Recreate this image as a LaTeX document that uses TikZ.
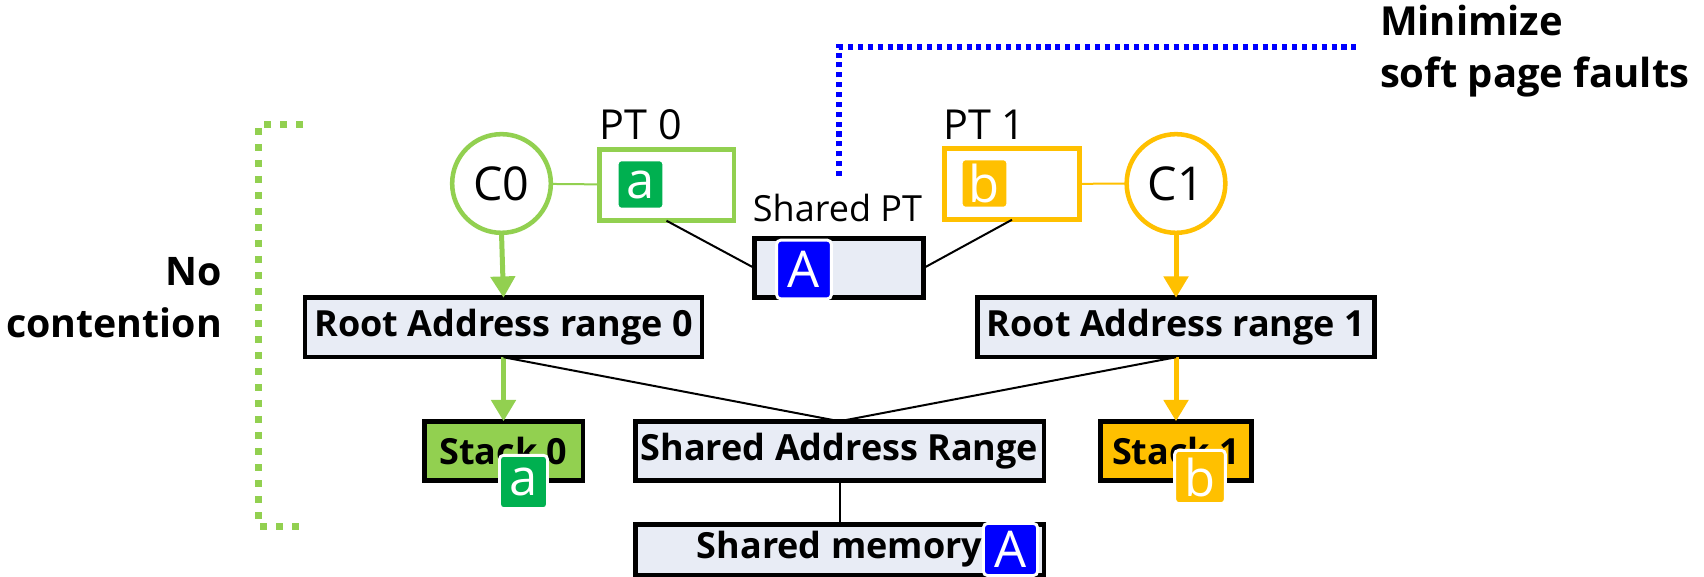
\documentclass[tikz,border=0pt]{standalone}
\usepackage{fontspec}
\setmainfont{Open Sans}
\usetikzlibrary{arrows.meta}
\definecolor{lgreen}{HTML}{92D050}
\definecolor{dgreen}{HTML}{00B050}
\definecolor{gold}{HTML}{FFC000}
\definecolor{pblue}{HTML}{0000FF}
\definecolor{boxfill}{HTML}{E8ECF5}
\begin{document}
\begin{tikzpicture}[x=0.75pt,y=-0.75pt,
  every node/.style={inner sep=0pt, outer sep=0pt},
  bbox/.style={draw=black, line width=3.4pt, fill=boxfill, font=\fontsize{27}{32}\selectfont\bfseries, minimum height=44.6pt},
  ptbox/.style={draw=#1, line width=3.4pt, fill=white, minimum width=100.9pt, minimum height=53.6pt},
  core/.style={draw=#1, line width=3.4pt, fill=white, circle, minimum size=74pt, font=\fontsize{35}{40}\selectfont},
  badge/.style={fill=#1, draw=white, line width=2.2pt, rounded corners=3pt, text=white, font=\fontsize{38}{40}\selectfont},
  thinline/.style={line width=1.5pt},
  arr/.style={draw=#1, line width=3.75pt, -{Triangle[width=18pt,length=16pt]}},
  lbl/.style={font=\fontsize{29.5}{39.5}\selectfont\bfseries},
  ptlbl/.style={font=\fontsize{31}{36}\selectfont},
]
\useasboundingbox[fill=white] (0,0) rectangle (1704,577);

% side annotations
\draw[lgreen, line width=5.25pt, dash pattern=on 5.25pt off 6.75pt] (303,125) -- (258,125) -- (258,526) -- (303,526);
\coordinate (blueEnd) at (839,176);
\coordinate (blueCorner) at (839,47);
\coordinate (blueTip) at (1358,47);
\draw[pblue, line width=4pt, dash pattern=on 3.8pt off 3.6pt] (blueEnd) -- (blueCorner) -- (blueTip);
\node[lbl, align=right, anchor=base east] (nocont) at (222,338) {No\\contention};
\node[lbl, align=left, anchor=base west, font=\fontsize{30}{39}\selectfont\bfseries] (minim) at (1380,88) {Minimize\\soft page faults};

% cores and page tables
\node[core=lgreen] (c0) at (501.5,183.5) {C0};
\node[core=gold] (c1) at (1176,183.5) {C1};
\node[ptbox=lgreen] (pt0) at (666.5,185) {};
\node[ptbox=gold] (pt1) at (1012,184) {};
\node[ptlbl, anchor=base] (pt0lbl) at (641,140) {PT 0};
\node[ptlbl, anchor=base] (pt1lbl) at (984.5,140) {PT 1};
\node[badge=dgreen, minimum width=35pt, minimum height=37pt] (pta) at (640.5,184.5) {a};
\node[badge=gold, minimum width=35pt, minimum height=37pt] (ptb) at (984.5,183.5) {b};

\node[bbox, minimum width=127pt] (spt) at (839,268) {};
\node[font=\fontsize{27}{32}\selectfont, anchor=base] (sptlbl) at (837.5,222) {Shared PT};
\node[badge=pblue, minimum width=41pt, minimum height=44pt] (sptA) at (804,269.5) {A};

% address ranges
\node[bbox, minimum width=297.5pt] (root0) at (503.5,327.5) {Root Address range 0};
\node[bbox, minimum width=297.5pt] (root1) at (1176,327.5) {Root Address range 1};
\node[bbox, fill=lgreen, minimum width=118.9pt] (stack0) at (503.5,451) {Stack 0};
\node[bbox, fill=gold, minimum width=113.6pt] (stack1) at (1176,451) {Stack 1};
\node[bbox, minimum width=306.4pt] (sar) at (839.5,451) {Shared Address Range};
\node[bbox, minimum width=306.4pt, minimum height=37.9pt] (sm) at (839.5,549.5) {Shared memory};
\node[badge=dgreen, minimum width=36pt, minimum height=40pt] (sta) at (523.5,482) {a};
\node[badge=gold, minimum width=38pt, minimum height=40pt] (stb) at (1200,477) {b};
\node[badge=pblue, minimum width=40.5pt, minimum height=39pt] (smA) at (1010.5,549.5) {A};

% connectors
\draw[lgreen, thinline] (c0) -- (pt0);
\draw[gold, thinline] (pt1) -- (c1);
\draw[thinline] (pt0.south) -- (spt.west);
\draw[thinline] (spt.east) -- (pt1.south);
\draw[arr=lgreen] (c0.south) -- (root0.north);
\draw[arr=gold] (c1.south) -- (root1.north);
\draw[arr=lgreen] (root0.south) -- (stack0.north);
\draw[arr=gold] (root1.south) -- (stack1.north);
\draw[thinline] (root0.south) -- (sar.north);
\draw[thinline] (root1.south) -- (sar.north);
\draw[thinline] (sar.south) -- (sm.north);
\end{tikzpicture}
\end{document}
